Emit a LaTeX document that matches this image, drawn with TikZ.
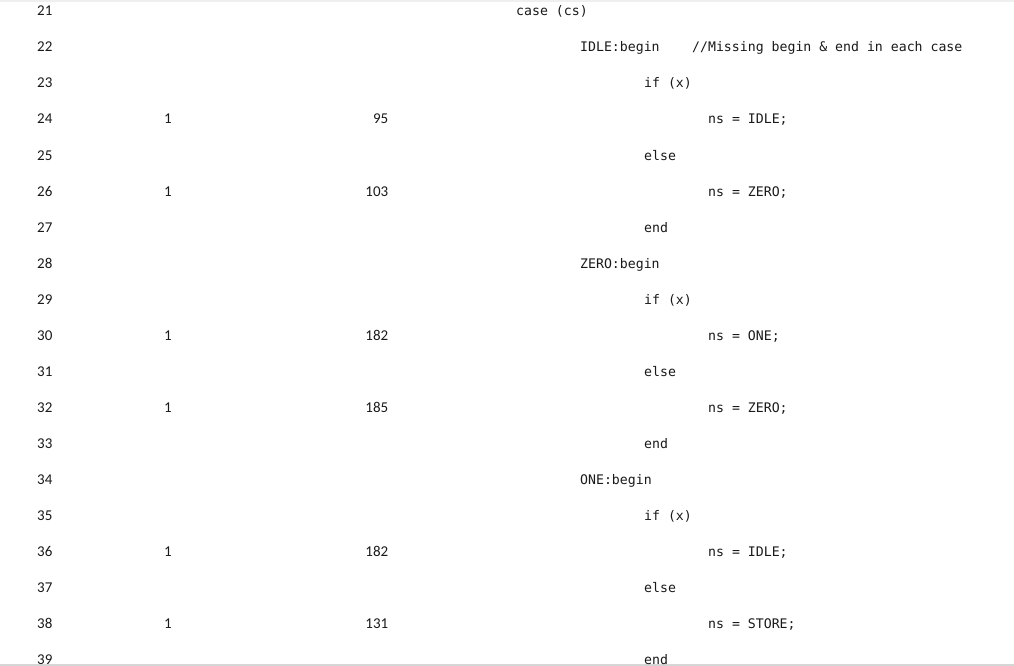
\documentclass[tikz,border=0pt]{standalone}
\usepackage{fontspec}
\setmainfont{Carlito}
\newfontfamily\codefont{DejaVu Sans Mono}
\usepackage{tikz}
\usetikzlibrary{positioning}
\definecolor{ink}{HTML}{1A1A1A}
\definecolor{topbar}{HTML}{EFEFEF}
\definecolor{rule}{HTML}{D6D6D6}

\begin{document}
\begin{tikzpicture}[x=1pt, y=-1pt]
    \tikzstyle{num} = [anchor=base west, inner sep=0pt, text=ink, font=\fontsize{15}{15}\selectfont]
    \tikzstyle{hit} = [anchor=base, inner sep=0pt, text=ink, font=\fontsize{15}{15}\selectfont]
    \tikzstyle{cnt} = [anchor=base east, inner sep=0pt, text=ink, font=\fontsize{15}{15}\selectfont]
    \tikzstyle{code} = [anchor=base west, inner sep=0pt, text=ink, font=\codefont\fontsize{13.2}{13.2}\selectfont]

    \useasboundingbox (0,0) rectangle (1014,666);
    \fill [white] (0,0) rectangle (1014,666);
    \fill [topbar] (0,0) rectangle (1014,2.5);
    \fill [rule] (0,663.5) rectangle (1014,666);

    % line numbers
    \foreach \n in {21,...,39}
        \node [num] (ln\n) at (37,{16+(\n-21)*36}) {\n};

    % hits and counts
    \foreach \n/\c in {24/95, 26/103, 30/182, 32/185, 36/182, 38/131} {
        \node [hit] (hit\n) at (168,{16+(\n-21)*36}) {1};
        \node [cnt] (cnt\n) at (388.5,{16+(\n-21)*36}) {\c};
    }

    % source lines
    \foreach \n/\l/\t in {21/0/case (cs), 22/1/IDLE:begin, 23/2/if (x), 24/3/ns = IDLE;,
        25/2/else, 26/3/ns = ZERO;, 27/2/end, 28/1/ZERO:begin, 29/2/if (x),
        30/3/ns = ONE;, 31/2/else, 32/3/ns = ZERO;, 33/2/end, 34/1/ONE:begin,
        35/2/if (x), 36/3/ns = IDLE;, 37/2/else, 38/3/ns = STORE;, 39/2/end}
        \node [code] (src\n) at ({516+64*\l},{16+(\n-21)*36}) {\t};

    \node [code] (note22) at (692,52) {//Missing begin \& end in each case};
\end{tikzpicture}
\end{document}
